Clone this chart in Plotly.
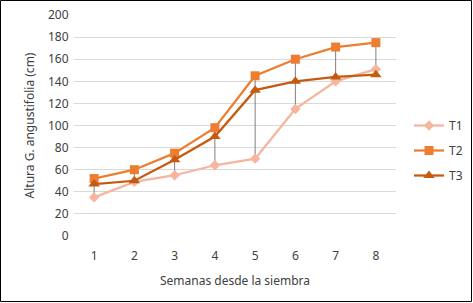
import plotly.graph_objects as go

weeks = [1, 2, 3, 4, 5, 6, 7, 8]
t1 = [35, 49, 55, 64, 70, 115, 140, 151]
t2 = [52, 60, 75, 98, 145, 160, 171, 175]
t3 = [47, 50, 69, 90, 132, 140, 144, 146]
series_names = ["T1", "T2", "T3"]

W, H = 473, 303
L, R, T, B = 74, 77, 15, 67

fig = go.Figure()

# high-low lines
hx, hy = [], []
for i, w in enumerate(weeks):
    vals = [t1[i], t2[i], t3[i]]
    hx += [w, w, None]
    hy += [min(vals), max(vals), None]
fig.add_trace(go.Scatter(x=hx, y=hy, mode="lines", line=dict(color="#7F7F7F", width=1),
                         showlegend=False, hoverinfo="skip"))

styles = [
    ("#F6B59E", "diamond", 8),
    ("#ED7D31", "square", 9),
    ("#C55A11", "triangle-up", 10),
]
for name, ys, (c, sym, sz) in zip(series_names, [t1, t2, t3], styles):
    fig.add_trace(go.Scatter(x=weeks, y=ys, name=name, mode="lines+markers",
                             line=dict(color=c, width=2.25),
                             marker=dict(color=c, symbol=sym, size=sz),
                             legendgroup=name))

font = "Noto Sans"
fig.update_layout(
    width=W, height=H,
    margin=dict(l=L, r=R, t=T, b=B, autoexpand=False),
    paper_bgcolor="white", plot_bgcolor="white",
    font=dict(family=font, size=12, color="#595959"),
    xaxis=dict(range=[0.5, 8.5], tickvals=weeks, ticktext=[str(w) for w in weeks],
               showgrid=False, zeroline=False, showline=False, automargin=False,
               ticks="outside", ticklen=9, tickcolor="rgba(0,0,0,0)",
               title=dict(text="Semanas desde la siembra", font=dict(size=12, color="#404040"), standoff=13),
               tickfont=dict(size=12, color="#404040")),
    yaxis=dict(range=[0, 200], dtick=20, showgrid=True, gridcolor="#D9D9D9", gridwidth=1,
               zeroline=False, showline=False, automargin=False,
               ticks="outside", ticklen=2, tickcolor="rgba(0,0,0,0)",
               title=dict(text="Altura G. angustifolia (cm)", font=dict(size=12, color="#404040"), standoff=10),
               tickfont=dict(size=12, color="#404040")),
    legend=dict(xref="container", yref="container", x=409 / W, y=1 - 111 / H,
                xanchor="left", yanchor="top", font=dict(size=12, color="#404040"),
                tracegroupgap=6, bgcolor="rgba(0,0,0,0)", itemwidth=30),
    shapes=[dict(type="rect", xref="paper", yref="paper",
                 x0=-(L - 0.5) / (W - L - R), x1=1 + (R - 1.5) / (W - L - R),
                 y0=-(B - 1.5) / (H - T - B), y1=1 + (T - 0.5) / (H - T - B),
                 line=dict(color="black", width=1), fillcolor="rgba(0,0,0,0)", layer="above")],
)

fig.write_html("out.html", config={"displayModeBar": False},
               post_script="document.body.style.margin='0';document.body.style.overflow='hidden';")
